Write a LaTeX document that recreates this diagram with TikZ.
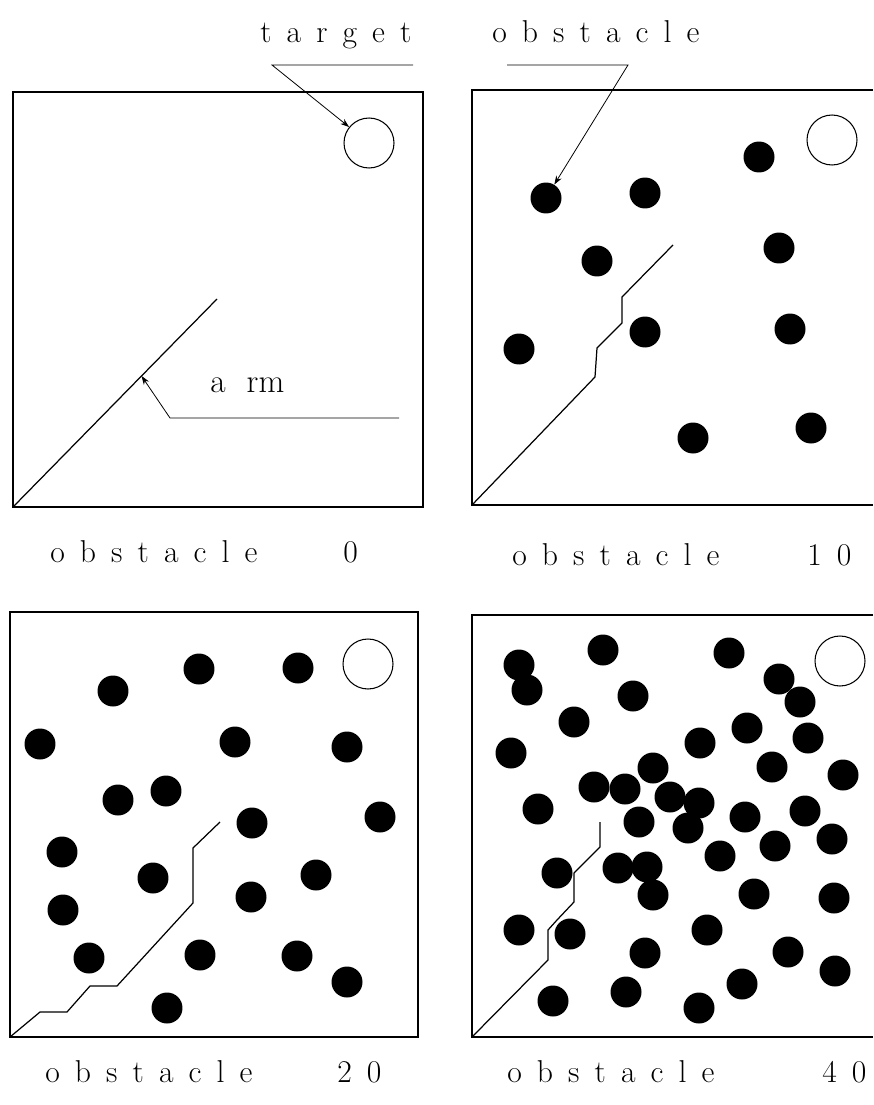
\documentclass[tikz,border=0pt]{standalone}
\usetikzlibrary{arrows.meta}

\begin{document}
\begin{tikzpicture}[x=0.02cm, y=-0.02cm,
    panel/.style={line width=1.1pt},
    obst/.style={circle, fill=black, inner sep=0pt, minimum size=0.62cm},
    goal/.style={circle, draw, line width=0.6pt, inner sep=0pt, minimum size=1cm},
    arm/.style={line width=0.7pt, line join=round},
    leader/.style={line width=0.45pt, -{Stealth[length=5pt, width=3.5pt]}},
    caption/.style={font=\fontsize{18}{21}\selectfont, inner sep=0pt, anchor=base west, execute at begin node={\spaceskip=8.6pt\relax}},
]
\useasboundingbox (0,0) rectangle (873,1105);

% Labels on top
\node[caption] (lbltarget) at (260,43) {t a r g e t};
\node[caption] (lblobst) at (492,43) {o b s t a c l e};

% Panel 1: no obstacle
\draw[panel] (13,92) rectangle (423,507);
\node[goal] (tgt1) at (369,143) {};
\draw[arm] (13,507) -- coordinate[pos=0.63] (armtip) (217,299);
\node[caption, font=\fontsize{19}{22}\selectfont, execute at begin node={\spaceskip=12pt\relax}] (lblarm) at (210,392) {a rm};
\coordinate (armtail) at (399,418);
\coordinate (armbend) at (170,418);
\draw[leader] (armtail) -- (armbend) -- (armtip);
\node[caption] (cap1) at (50,562) {o b s t a c l e};
\node[caption] (num1) at (343,562) {0};

% Panel 2: 10 obstacles
\draw[panel] (873,90) -- (472,90) -- (472,505) -- (873,505);
\node[goal] (tgt2) at (832,140) {};
\foreach \px/\py [count=\i] in {546/198, 645/193, 759/157, 597/261, 779/248, 519/349, 645/332, 790/329, 693/438, 811/428}
    \node[obst] (d2-\i) at (\px,\py) {};
\draw[arm] (472,505) -- (595,377) -- (597,348) -- (622,323) -- (622,297) -- (673,245);
\node[caption] (cap2) at (512,565) {o b s t a c l e};
\node[caption] (num2) at (807,565) {1 0};

% Leaders from the top labels
\coordinate (tstart) at (413,65);
\coordinate (tbend) at (272,65);
\draw[leader] (tstart) -- (tbend) -- (tgt1);
\coordinate (ostart) at (507,65);
\coordinate (obend) at (628,65);
\draw[leader] (ostart) -- (obend) -- (d2-1);

% Panel 3: 20 obstacles
\draw[panel] (10,612) rectangle (418,1037);
\node[goal] (tgt3) at (368,664) {};
\foreach \px/\py [count=\i] in {199/669, 298/668, 113/691, 40/744, 235/742, 347/747, 118/800, 166/791, 252/823, 380/817,
    62/852, 153/878, 316/875, 251/897, 63/910, 89/958, 200/955, 297/956, 347/982, 167/1008}
    \node[obst] (d3-\i) at (\px,\py) {};
\draw[arm] (10,1037) -- (40,1012) -- (67,1012) -- (90,986) -- (117,986) -- (193,903) -- (193,848) -- (220,822);
\node[caption] (cap3) at (45,1082) {o b s t a c l e};
\node[caption] (num3) at (337,1082) {2 0};

% Panel 4: 40 obstacles
\draw[panel] (873,615) -- (472,615) -- (472,1037) -- (873,1037);
\node[goal] (tgt4) at (840,661) {};
\foreach \px/\py [count=\i] in {519/665, 527/690, 603/650, 633/696, 729/653, 779/679, 800/702, 574/722, 511/753, 747/728,
    700/743, 808/738, 653/768, 772/767, 843/775, 594/787, 625/789, 538/809, 670/797, 699/803,
    639/822, 688/828, 745/817, 805/811, 775/846, 832/839, 720/856, 557/873, 618/868, 647/867,
    653/895, 754/894, 834/898, 519/930, 570/934, 707/930, 645/953, 788/952, 835/971, 553/1001,
    626/992, 742/984, 699/1008}
    \node[obst] (d4-\i) at (\px,\py) {};
\draw[arm] (472,1037) -- (548,960) -- (548,930) -- (557,920) -- (574,902) -- (574,873) -- (600,847) -- (600,822);
\node[caption] (cap4) at (507,1082) {o b s t a c l e};
\node[caption] (num4) at (822,1082) {4 0};

\end{tikzpicture}
\end{document}
